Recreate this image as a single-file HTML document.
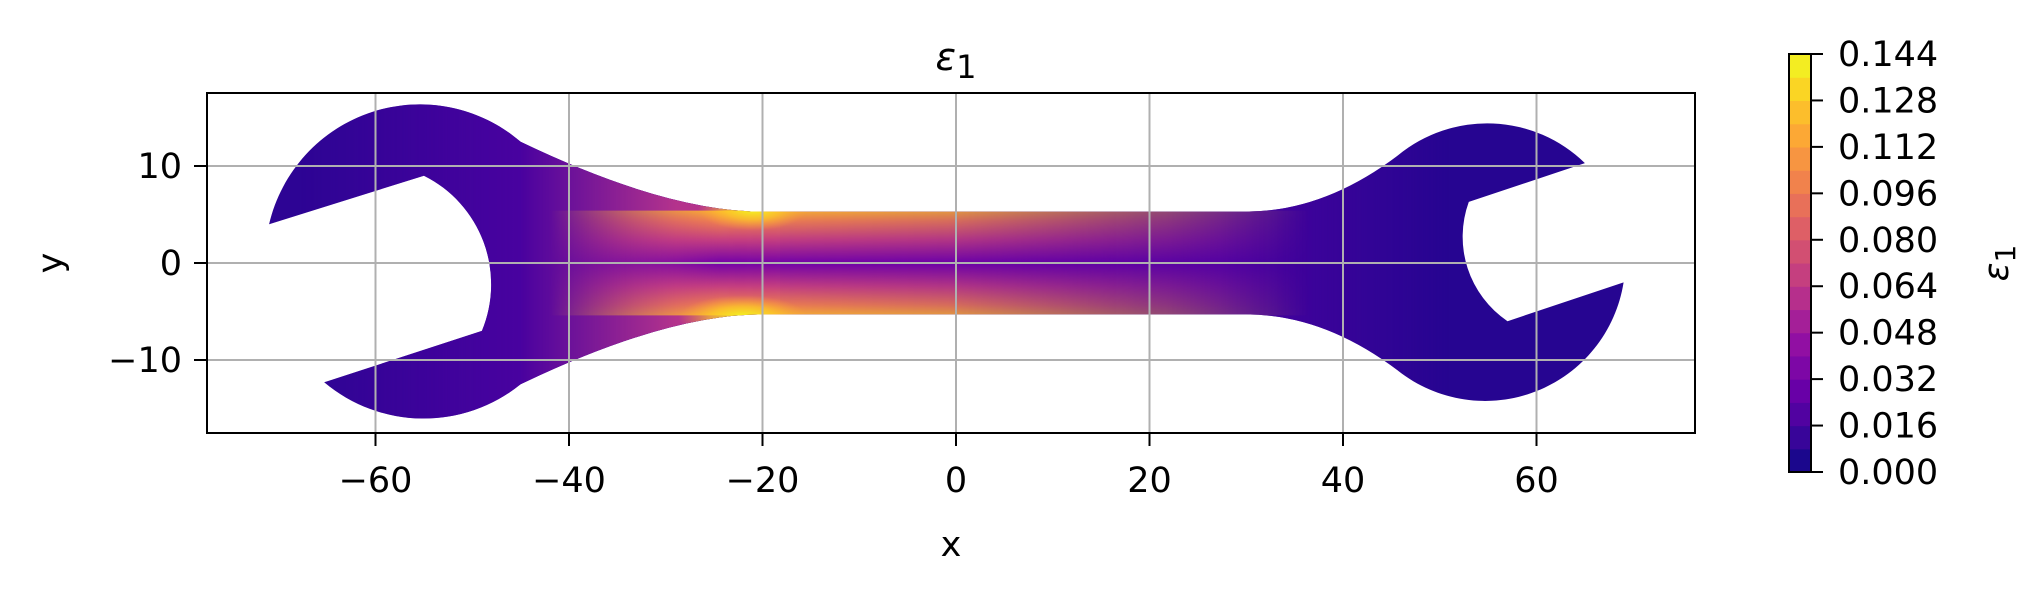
<!DOCTYPE html>
<html><head><meta charset="utf-8"><style>
body{margin:0;background:#fff;}
svg{display:block;font-family:"DejaVu Sans","Liberation Sans",sans-serif;}
</style></head><body>
<svg id="chart" width="2044" height="593" viewBox="0 0 2044 593" xmlns="http://www.w3.org/2000/svg">
<defs>
<linearGradient id="shaftV" x1="0" y1="0" x2="0" y2="1">
<stop offset="0" stop-color="#fdb32f"/><stop offset="0.1" stop-color="#ef7f4f"/>
<stop offset="0.28" stop-color="#c43e80"/><stop offset="0.5" stop-color="#7301a8"/>
<stop offset="0.72" stop-color="#c43e80"/><stop offset="0.9" stop-color="#ef7f4f"/>
<stop offset="1" stop-color="#fdb32f"/></linearGradient>
<linearGradient id="shaftH" gradientUnits="userSpaceOnUse" x1="549" y1="0" x2="1500" y2="0">
<stop offset="0" stop-color="#fff" stop-opacity="0"/>
<stop offset="0.18" stop-color="#fff" stop-opacity="1"/><stop offset="0.42" stop-color="#fff" stop-opacity="0.85"/>
<stop offset="0.65" stop-color="#fff" stop-opacity="0.4"/><stop offset="0.8" stop-color="#fff" stop-opacity="0"/></linearGradient>
<mask id="shaftMask"><rect x="0" y="0" width="2044" height="593" fill="url(#shaftH)"/></mask>
<linearGradient id="neckH" gradientUnits="userSpaceOnUse" x1="520" y1="0" x2="780" y2="0">
<stop offset="0" stop-color="#fff" stop-opacity="0"/><stop offset="0.6" stop-color="#fff" stop-opacity="1"/><stop offset="1" stop-color="#fff" stop-opacity="1"/></linearGradient>
<mask id="neckMask"><rect x="0" y="0" width="2044" height="593" fill="url(#neckH)"/></mask>
<linearGradient id="midH" gradientUnits="userSpaceOnUse" x1="300" y1="0" x2="1450" y2="0">
<stop offset="0" stop-color="#fff" stop-opacity="0.2"/><stop offset="0.2" stop-color="#fff" stop-opacity="1"/>
<stop offset="0.8" stop-color="#fff" stop-opacity="1"/><stop offset="1" stop-color="#fff" stop-opacity="0"/></linearGradient>
<mask id="midMask"><rect x="0" y="0" width="2044" height="593" fill="url(#midH)"/></mask>
<radialGradient id="hot"><stop offset="0" stop-color="#f0f921"/><stop offset="0.5" stop-color="#fcce25" stop-opacity="0.7"/><stop offset="1" stop-color="#fca636" stop-opacity="0"/></radialGradient>
<clipPath id="wclip"><path id="wclipPath" d=""/></clipPath>
</defs>
<g clip-path="url(#wclip)">
<rect x="0" y="0" width="2044" height="593" fill="#260591"/>
<rect x="0" y="0" width="2044" height="593" fill="#4a02a0" mask="url(#midMask)"/>
<rect x="520" y="0" width="260" height="593" fill="#b4338c" mask="url(#neckMask)"/>
<rect id="shaftRect" fill="url(#shaftV)" mask="url(#shaftMask)"/>
<ellipse id="hot1" fill="url(#hot)"/>
<ellipse id="hot2" fill="url(#hot)"/>
</g>
<g id="grid2"></g>
<rect x="207" y="93" width="1488" height="340" fill="none" stroke="#000" stroke-width="2"/>
<g id="ticks" font-size="35" fill="#000"></g>
<text x="956" y="70" text-anchor="middle" font-size="38" font-style="italic">ε<tspan font-style="normal" font-size="32" dy="8">1</tspan></text>
<text x="951" y="556" text-anchor="middle" font-size="35">x</text>
<text transform="translate(62,263) rotate(-90)" text-anchor="middle" font-size="35">y</text>
<g id="cbar"></g>
<text transform="translate(2008,263) rotate(-90)" text-anchor="middle" font-size="35" font-style="italic">ε<tspan font-style="normal" font-size="28" dy="7">1</tspan></text>
</svg>
<script>
const xTicks=[-60,-40,-20,0,20,40,60];
const yTicks=[-10,0,10];
const cbTicks=[0,0.016,0.032,0.048,0.064,0.080,0.096,0.112,0.128,0.144];
const cbLevels=18;
const cbMax=0.144;
const outline=[['M',-71,4],['L',-55,9],['A',12.5,0,1,-49,-7],['L',-65.3,-12.3],['A',16,0,0,-45,-12.5],['Q',-30,-5.3,-20,-5.3],['L',30,-5.3],['Q',38,-5.3,45.7,-11.1],['A',14.5,0,0,69,-2],['L',57,-6],['A',10.5,0,1,53,6.3],['L',65,10.3],['A',14.5,0,0,45.7,11.1],['Q',38,5.3,30,5.3],['L',-20,5.3],['Q',-30,5.3,-45,12.5],['A',16,0,0,-71,4],['Z']];
const plasma=["#0d0887","#41049d","#6a00a8","#8f0da4","#b12a90","#cc4778","#e16462","#f2844b","#fca636","#fcce25","#f0f921"];
const SX=9.675,SY=9.7;
const X=v=>956+v*SX, Y=v=>263-v*SY;
const NS="http://www.w3.org/2000/svg";
function mk(t,a,p){const e=document.createElementNS(NS,t);for(const k in a)e.setAttribute(k,a[k]);p.appendChild(e);return e;}
let d='';
outline.forEach(c=>{
 if(c[0]==='M'||c[0]==='L') d+=c[0]+X(c[1]).toFixed(1)+','+Y(c[2]).toFixed(1);
 else if(c[0]==='A') d+='A'+(c[1]*SX).toFixed(1)+','+(c[1]*SY).toFixed(1)+' 0 '+c[2]+' '+c[3]+' '+X(c[4]).toFixed(1)+','+Y(c[5]).toFixed(1);
 else if(c[0]==='Q') d+='Q'+X(c[1]).toFixed(1)+','+Y(c[2]).toFixed(1)+' '+X(c[3]).toFixed(1)+','+Y(c[4]).toFixed(1);
 else d+='Z';
});
document.getElementById('wclipPath').setAttribute('d',d);
const sr=document.getElementById('shaftRect');
sr.setAttribute('x',X(-60));sr.setAttribute('y',Y(5.4));sr.setAttribute('width',X(60)-X(-60));sr.setAttribute('height',Y(-5.4)-Y(5.4));
const h1=document.getElementById('hot1');h1.setAttribute('cx',X(-21));h1.setAttribute('cy',Y(5.6));h1.setAttribute('rx',55);h1.setAttribute('ry',22);
const h2=document.getElementById('hot2');h2.setAttribute('cx',X(-22));h2.setAttribute('cy',Y(-5.6));h2.setAttribute('rx',65);h2.setAttribute('ry',22);
const g=document.getElementById('grid2'), tk=document.getElementById('ticks');
xTicks.forEach(v=>{
 const l=mk('line',{x1:X(v),x2:X(v),y1:93,y2:433,stroke:'#b0b0b0','stroke-width':2},g);
 
 const t=mk('line',{x1:X(v),x2:X(v),y1:433,y2:446,stroke:'#000','stroke-width':2},tk);
 
 const tx=mk('text',{x:X(v),y:492,'text-anchor':'middle'},tk);tx.textContent=v<0?'\u2212'+(-v):String(v);
 
});
yTicks.forEach(v=>{
 const l=mk('line',{x1:207,x2:1695,y1:Y(v),y2:Y(v),stroke:'#b0b0b0','stroke-width':2},g);
 
 const t=mk('line',{x1:194,x2:207,y1:Y(v),y2:Y(v),stroke:'#000','stroke-width':2},tk);
 
 const tx=mk('text',{x:182,y:Y(v)+12,'text-anchor':'end'},tk);tx.textContent=v<0?'\u2212'+(-v):String(v);
 
});
function hx(h){return[1,3,5].map(i=>parseInt(h.substr(i,2),16));}
function cmap(t){const p=t*10,i=Math.min(9,Math.floor(p)),f=p-i,a=hx(plasma[i]),b=hx(plasma[i+1]);return 'rgb('+a.map((c,k)=>Math.round(c+(b[k]-c)*f)).join(',')+')';}
const cb=document.getElementById('cbar');const cT=54,cB=472,cL=1789,cW=22;
const CY=v=>cB-(v/cbMax)*(cB-cT);
for(let i=0;i<cbLevels;i++){
 const y0=CY(i*cbMax/cbLevels),y1=CY((i+1)*cbMax/cbLevels);
 const r=mk('rect',{x:cL,y:y1,width:cW,height:y0-y1+0.6,fill:cmap((i+0.5)/cbLevels)},cb);
 
}
const fr=mk('rect',{x:cL,y:cT,width:cW,height:cB-cT,fill:'none',stroke:'#000','stroke-width':2},cb);

cbTicks.forEach(v=>{
 const t=mk('line',{x1:cL+cW,x2:cL+cW+12,y1:CY(v),y2:CY(v),stroke:'#000','stroke-width':2},cb);
 
 const tx=mk('text',{x:1838,y:CY(v)+12,'font-size':35},cb);tx.textContent=v.toFixed(3);
 
});
</script>
</body></html>
